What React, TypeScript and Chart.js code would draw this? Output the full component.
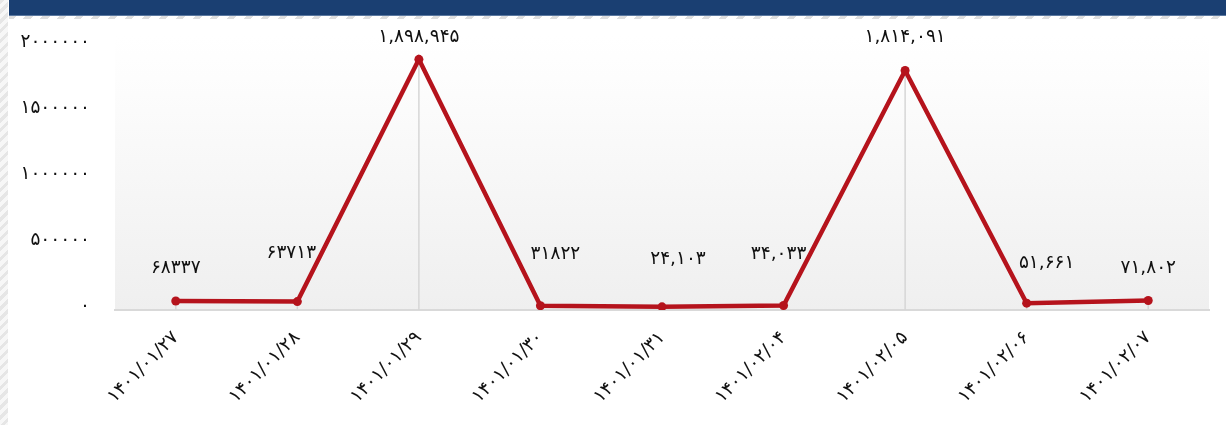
import React, { useEffect, useRef } from "react";
import { Chart, registerables } from "chart.js";

Chart.register(...registerables);

// ---- data ----
const categories = [
  "۱۴۰۱/۰۱/۲۷",
  "۱۴۰۱/۰۱/۲۸",
  "۱۴۰۱/۰۱/۲۹",
  "۱۴۰۱/۰۱/۳۰",
  "۱۴۰۱/۰۱/۳۱",
  "۱۴۰۱/۰۲/۰۴",
  "۱۴۰۱/۰۲/۰۵",
  "۱۴۰۱/۰۲/۰۶",
  "۱۴۰۱/۰۲/۰۷",
];
const values = [68337, 63713, 1898945, 31822, 24103, 34033, 1814091, 51661, 71802];
const valueLabels = [
  "۶۸۳۳۷",
  "۶۳۷۱۳",
  "۱,۸۹۸,۹۴۵",
  "۳۱۸۲۲",
  "۲۴,۱۰۳",
  "۳۴,۰۳۳",
  "۱,۸۱۴,۰۹۱",
  "۵۱,۶۶۱",
  "۷۱,۸۰۲",
];
const yTicks = [0, 500000, 1000000, 1500000, 2000000];

// ---- style (label nudges relative to each point, px) ----
const labelNudge: [number, number][] = [
  [0, -33],
  [-6, -48],
  [0, -22],
  [15, -52],
  [16, -48],
  [-5, -51],
  [0, -33],
  [20, -40],
  [0, -32],
];

const FONT = "'DejaVu Sans', 'Noto Sans', sans-serif";
const FONT_SIZE = 18.5;
const RED = "#b5131c";

const toFa = (s: string) => s.replace(/[0-9]/g, (d) => "۰۱۲۳۴۵۶۷۸۹"[+d]);

const plotBg = {
  id: "plotBg",
  beforeDraw(chart: any) {
    const { ctx, chartArea } = chart;
    const top = chartArea.top - 10;
    const g = ctx.createLinearGradient(0, top, 0, chartArea.bottom);
    g.addColorStop(0, "#ffffff");
    g.addColorStop(0.15, "#fdfdfd");
    g.addColorStop(1, "#efefef");
    ctx.save();
    ctx.fillStyle = g;
    ctx.fillRect(chartArea.left, top, chartArea.right - chartArea.left, chartArea.bottom - top);
    ctx.restore();
  },
};

const dropLines = {
  id: "dropLines",
  beforeDatasetsDraw(chart: any) {
    const { ctx, chartArea } = chart;
    const meta = chart.getDatasetMeta(0);
    ctx.save();
    ctx.strokeStyle = "#d6d6d6";
    ctx.lineWidth = 1.5;
    meta.data.forEach((p: any) => {
      ctx.beginPath();
      ctx.moveTo(p.x, p.y);
      ctx.lineTo(p.x, chartArea.bottom);
      ctx.stroke();
    });
    ctx.restore();
  },
};

const valueLabelsPlugin = {
  id: "valueLabels",
  afterDatasetsDraw(chart: any) {
    const { ctx } = chart;
    const meta = chart.getDatasetMeta(0);
    ctx.save();
    ctx.font = `${FONT_SIZE}px ${FONT}`;
    ctx.fillStyle = "#111111";
    ctx.textAlign = "center";
    ctx.textBaseline = "middle";
    meta.data.forEach((p: any, i: number) => {
      const [dx, dy] = labelNudge[i];
      ctx.fillText(valueLabels[i], p.x + dx, p.y + dy);
    });
    ctx.restore();
  },
};

export default function App() {
  const ref = useRef<HTMLCanvasElement | null>(null);

  useEffect(() => {
    if (!ref.current) return;
    const chart = new Chart(ref.current, {
      type: "line",
      data: {
        labels: categories,
        datasets: [
          {
            data: values,
            borderColor: RED,
            backgroundColor: RED,
            borderWidth: 4.5,
            pointRadius: 4.5,
            pointBackgroundColor: RED,
            pointBorderWidth: 0,
            tension: 0,
          },
        ],
      },
      options: {
        animation: false,
        responsive: false,
        devicePixelRatio: 1,
        layout: { padding: { top: 46, right: 17, left: 0, bottom: 0 } },
        plugins: { legend: { display: false }, tooltip: { enabled: false } },
        scales: {
          x: {
            offset: true,
            grid: { display: false, drawTicks: false },
            border: { display: true, color: "#d9d9d9", width: 2 },
            ticks: {
              minRotation: 45,
              maxRotation: 45,
              autoSkip: false,
              padding: 17,
              color: "#111111",
              font: { family: FONT, size: FONT_SIZE },
            },
            afterFit: (s: any) => {
              s.height = 115;
            },
          },
          y: {
            min: 0,
            max: 2000000,
            grid: { display: false, drawTicks: false },
            border: { display: false },
            afterBuildTicks: (s: any) => {
              s.ticks = yTicks.map((v) => ({ value: v }));
            },
            ticks: {
              padding: 25,
              labelOffset: -4,
              color: "#111111",
              font: { family: FONT, size: FONT_SIZE },
              callback: (v: any) => toFa(String(v)),
            },
            afterFit: (s: any) => {
              s.width = 115;
            },
          },
        },
      },
      plugins: [plotBg, dropLines, valueLabelsPlugin],
    });
    return () => chart.destroy();
  }, []);

  return (
    <div
      style={{
        position: "fixed",
        left: 0,
        top: 0,
        width: 1226,
        height: 425,
        background: "#ffffff",
        overflow: "hidden",
      }}
    >
      <div
        style={{
          position: "absolute",
          left: 0,
          top: 0,
          width: 8,
          height: 425,
          background:
            "repeating-linear-gradient(135deg, #e6e6e6 0px, #e6e6e6 3px, #f7f7f7 3px, #f7f7f7 7px)",
        }}
      />
      <div
        style={{
          position: "absolute",
          left: 9,
          top: 0,
          right: 0,
          height: 15,
          background: "#1a3f72",
          borderBottom: "1px solid #5a78a0",
        }}
      />
      <div
        style={{
          position: "absolute",
          left: 9,
          top: 16,
          right: 0,
          height: 3,
          background:
            "repeating-linear-gradient(135deg, #dedede 0px, #dedede 5px, #ffffff 5px, #ffffff 12px)",
        }}
      />
      <canvas
        ref={ref}
        width={1226}
        height={425}
        style={{ position: "absolute", left: 0, top: 0, width: 1226, height: 425 }}
      />
    </div>
  );
}
